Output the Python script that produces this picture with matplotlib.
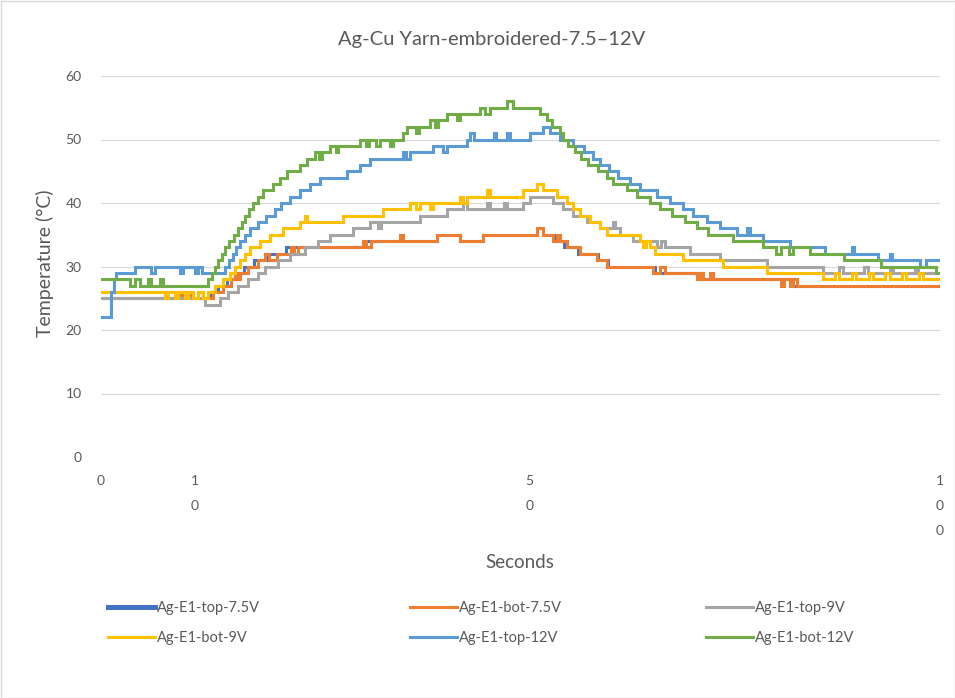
import matplotlib
matplotlib.use("Agg")
import matplotlib.pyplot as plt
from matplotlib.patches import Rectangle

plt.rcParams['font.family'] = ['Lato', 'DejaVu Sans']

# ---------------- data (step breakpoints: time in s, temperature in °C) ----------------
series_names = ["Ag-E1-top-7.5V", "Ag-E1-bot-7.5V", "Ag-E1-top-9V",
                "Ag-E1-bot-9V", "Ag-E1-top-12V", "Ag-E1-bot-12V"]
series_colors = ["#4472C4", "#ED7D31", "#A5A5A5", "#FFC000", "#5B9BD5", "#70AD47"]

top75_t = [0, 13.0, 14.0, 15.0, 16.0, 17.0, 18.2, 19.8, 22.0, 31.4, 40.0, 42.8, 45.5, 52.0,
           52.7, 54.0, 55.2, 56.8, 59.2, 60.4, 66.0, 71.2, 82.3, 100]
top75_v = [25, 26, 27, 28, 29, 30, 31, 32, 33, 34, 35, 34, 35, 36,
           35, 34, 33, 32, 31, 30, 29, 28, 27, 27]

bot75_t = [0, 7.6, 8.0, 9.4, 9.8, 10.6, 11.0, 13.3, 14.5, 15.5, 16.0, 16.3, 16.6, 17.5, 18.7,
           19.6, 20.0, 21.0, 22.6, 23.0, 23.5, 31.2, 31.6, 32.2, 35.6, 36.0, 40.0, 42.8, 45.5,
           52.0, 52.7, 53.9, 54.4, 54.7, 55.5, 57.1, 59.1, 60.3, 65.8, 66.6, 67.2, 71.0, 71.4,
           71.8, 72.6, 73.0, 81.0, 81.4, 82.1, 82.5, 83.0, 100]
bot75_v = [25, 26, 25, 26, 25, 26, 25, 26, 27, 28, 29, 28, 29, 30, 31,
           32, 31, 32, 33, 32, 33, 34, 33, 34, 35, 34, 35, 34, 35,
           36, 35, 34, 35, 34, 33, 32, 31, 30, 29, 30, 29, 28, 29,
           28, 29, 28, 27, 28, 27, 28, 27, 27]

top9_t = [0, 12.4, 14.2, 15.1, 16.3, 17.5, 18.7, 19.5, 21.1, 22.5, 24.3, 25.9, 27.3, 30.0,
          32.1, 33.0, 33.4, 38.0, 41.2, 43.2, 43.6, 46.0, 46.4, 48.0, 48.4, 50.3, 51.1, 53.9,
          55.1, 56.3, 57.9, 59.5, 61.0, 61.3, 61.9, 63.4, 66.3, 66.8, 67.2, 70.2, 73.8, 79.4,
          86.1, 88.0, 88.4, 91.0, 91.4, 94.0, 94.4, 97.0, 97.4, 100]
top9_v = [25, 24, 25, 26, 27, 28, 29, 30, 31, 32, 33, 34, 35, 36,
          37, 36, 37, 38, 39, 40, 39, 40, 39, 40, 39, 40, 41, 40,
          39, 38, 37, 36, 37, 36, 35, 34, 33, 34, 33, 32, 31, 30,
          29, 30, 29, 30, 29, 30, 29, 30, 29, 29]

bot9_t = [0, 7.6, 8.0, 8.8, 9.2, 10.0, 10.4, 11.0, 11.6, 12.2, 12.8, 13.6, 14.5, 15.4, 16.0,
          16.6, 17.2, 17.8, 19.0, 20.1, 21.7, 23.7, 24.3, 24.6, 28.8, 33.6, 36.8, 37.6, 38.0,
          39.2, 39.6, 42.8, 43.2, 43.6, 46.0, 46.4, 50.3, 52.0, 52.7, 54.4, 55.5, 56.3, 57.1,
          58.3, 59.5, 60.3, 64.2, 64.6, 65.0, 65.4, 66.0, 69.4, 74.1, 79.4, 86.1, 87.5, 88.0,
          89.5, 90.0, 91.5, 92.0, 93.5, 94.0, 95.5, 96.0, 97.5, 98.0, 100]
bot9_v = [26, 25, 26, 25, 26, 25, 26, 25, 26, 25, 26, 27, 28, 29, 30,
          31, 32, 33, 34, 35, 36, 37, 38, 37, 38, 39, 40, 39, 40,
          39, 40, 41, 40, 41, 42, 41, 42, 43, 42, 41, 40, 39, 38,
          37, 36, 35, 34, 33, 34, 33, 32, 31, 30, 29, 28, 29, 28,
          29, 28, 29, 28, 29, 28, 29, 28, 29, 28, 28]

top12_t = [0, 1.2, 1.5, 1.8, 4.0, 6.0, 6.4, 9.4, 9.8, 11.2, 11.6, 12.0, 14.8, 15.2, 15.7,
           16.1, 16.6, 17.2, 17.8, 18.7, 19.7, 20.7, 21.5, 22.5, 23.7, 24.9, 26.1, 29.3, 30.9,
           32.1, 36.0, 36.4, 36.8, 39.6, 40.8, 41.2, 43.6, 44.0, 44.4, 46.8, 47.1, 48.4, 48.8,
           51.1, 52.7, 53.5, 54.7, 56.3, 57.6, 58.6, 59.5, 60.6, 61.6, 63.1, 64.2, 66.3, 67.8,
           69.4, 70.6, 72.2, 73.8, 75.8, 77.0, 77.3, 78.9, 82.1, 86.3, 89.5, 89.8, 92.6, 94.0,
           94.3, 97.6, 98.3, 100]
top12_v = [22, 26, 28, 29, 30, 29, 30, 29, 30, 29, 30, 29, 30, 31, 32,
           33, 34, 35, 36, 37, 38, 39, 40, 41, 42, 43, 44, 45, 46,
           47, 48, 47, 48, 49, 48, 49, 50, 51, 50, 51, 50, 51, 50,
           51, 52, 51, 50, 49, 48, 47, 46, 45, 44, 43, 42, 41, 40,
           39, 38, 37, 36, 35, 36, 35, 34, 33, 32, 33, 32, 31, 32,
           31, 30, 31, 31]

bot12_t = [0, 3.5, 4.1, 4.6, 5.6, 6.0, 7.0, 7.4, 12.8, 13.2, 13.6, 14.0, 14.4, 14.8, 15.3,
           15.8, 16.3, 16.8, 17.2, 17.6, 18.1, 18.7, 19.3, 20.5, 21.3, 22.2, 23.7, 24.6, 25.5,
           26.0, 26.3, 27.3, 28.0, 28.3, 30.9, 31.6, 32.0, 32.8, 33.2, 34.4, 34.8, 36.0, 36.5,
           37.5, 37.9, 39.2, 39.8, 40.2, 41.2, 42.4, 42.8, 45.2, 45.8, 46.4, 48.4, 49.1, 52.3,
           53.2, 53.8, 54.7, 55.1, 55.7, 56.5, 57.2, 58.0, 59.2, 60.3, 61.0, 62.7, 63.9, 65.4,
           66.6, 68.0, 69.6, 71.0, 72.4, 75.3, 78.9, 80.5, 81.0, 82.0, 82.5, 84.5, 88.5, 93.0,
           99.5, 100]
bot12_v = [28, 27, 28, 27, 28, 27, 28, 27, 28, 29, 30, 31, 32, 33, 34,
           35, 36, 37, 38, 39, 40, 41, 42, 43, 44, 45, 46, 47, 48,
           47, 48, 49, 48, 49, 50, 49, 50, 49, 50, 49, 50, 51, 52,
           51, 52, 53, 52, 53, 54, 53, 54, 55, 54, 55, 56, 55, 54,
           53, 52, 51, 50, 49, 48, 47, 46, 45, 44, 43, 42, 41, 40,
           39, 38, 37, 36, 35, 34, 33, 32, 33, 32, 33, 32, 31, 30,
           29, 29]

series_t = [top75_t, bot75_t, top9_t, bot9_t, top12_t, bot12_t]
series_v = [top75_v, bot75_v, top9_v, bot9_v, top12_v, bot12_v]

y_ticks = [0, 10, 20, 30, 40, 50, 60]
x_tick_pos = [0, 11.2, 51.1, 100]
x_tick_labels = ["0", "1\n0", "5\n0", "1\n0\n0"]

title = "Ag-Cu Yarn-embroidered-7.5\u201312V"
x_label = "Seconds"
y_label = "Temperature (\u00b0C)"

# ---------------- figure ----------------
W, H = 955, 698
fig = plt.figure(figsize=(W / 100, H / 100), dpi=100)
fig.patch.set_facecolor("white")

L, R, T, B = 101, 940, 76, 457
ax = fig.add_axes([L / W, 1 - B / H, (R - L) / W, (B - T) / H])

txt_col = "#595959"
fs_tick = 10
fs_leg = 10.5

handles = []
for t, v, c, n in zip(series_t, series_v, series_colors, series_names):
    ln, = ax.step(t, v, where="post", color=c, lw=2.2, label=n,
                  solid_joinstyle="miter", zorder=3)
    handles.append(ln)

ax.set_xlim(0, 100)
ax.set_ylim(0, 60)
ax.set_yticks(y_ticks)
ax.set_xticks(x_tick_pos)
ax.set_xticklabels(x_tick_labels)
for lbl in ax.get_xticklabels():
    lbl.set_linespacing(2.3)
    lbl.set_verticalalignment("top")
ax.tick_params(axis="both", length=0, labelsize=fs_tick, labelcolor=txt_col)
ax.tick_params(axis="y", pad=14)
ax.tick_params(axis="x", pad=13)
ax.grid(axis="y", color="#D9D9D9", lw=0.8, zorder=0)
ax.set_axisbelow(True)
for sp in ax.spines.values():
    sp.set_visible(False)

fig.text(492 / W, 1 - 40 / H, title, ha="center", va="center", fontsize=14.5, color=txt_col)
fig.text(520 / W, 1 - 562 / H, x_label, ha="center", va="center", fontsize=13.5, color=txt_col)
fig.text(45 / W, 1 - 263 / H, y_label, ha="center", va="center", rotation=90,
         fontsize=14, color=txt_col)

# legend: three columns placed like the reference (row-major order)
col_x = [108, 410, 706]
for ci, cx in enumerate(col_x):
    hs = [handles[ci], handles[ci + 3]]
    leg = fig.legend(hs, [h.get_label() for h in hs], loc="upper left",
                     bbox_to_anchor=(cx / W, 1 - 601 / H), frameon=False,
                     fontsize=fs_leg, handlelength=3.2, handletextpad=0.15,
                     labelspacing=1.1, borderaxespad=0, borderpad=0)
    for tx in leg.get_texts():
        tx.set_color(txt_col)
    if ci == 0:
        leg.legend_handles[0].set_linewidth(3.6)

fig.patches.append(Rectangle((0.5 / W, 0.5 / H), 1 - 1 / W, 1 - 1 / H,
                             transform=fig.transFigure, fill=False,
                             edgecolor="#D9D9D9", lw=1))

fig.savefig("out.png", dpi=100, facecolor="white")
